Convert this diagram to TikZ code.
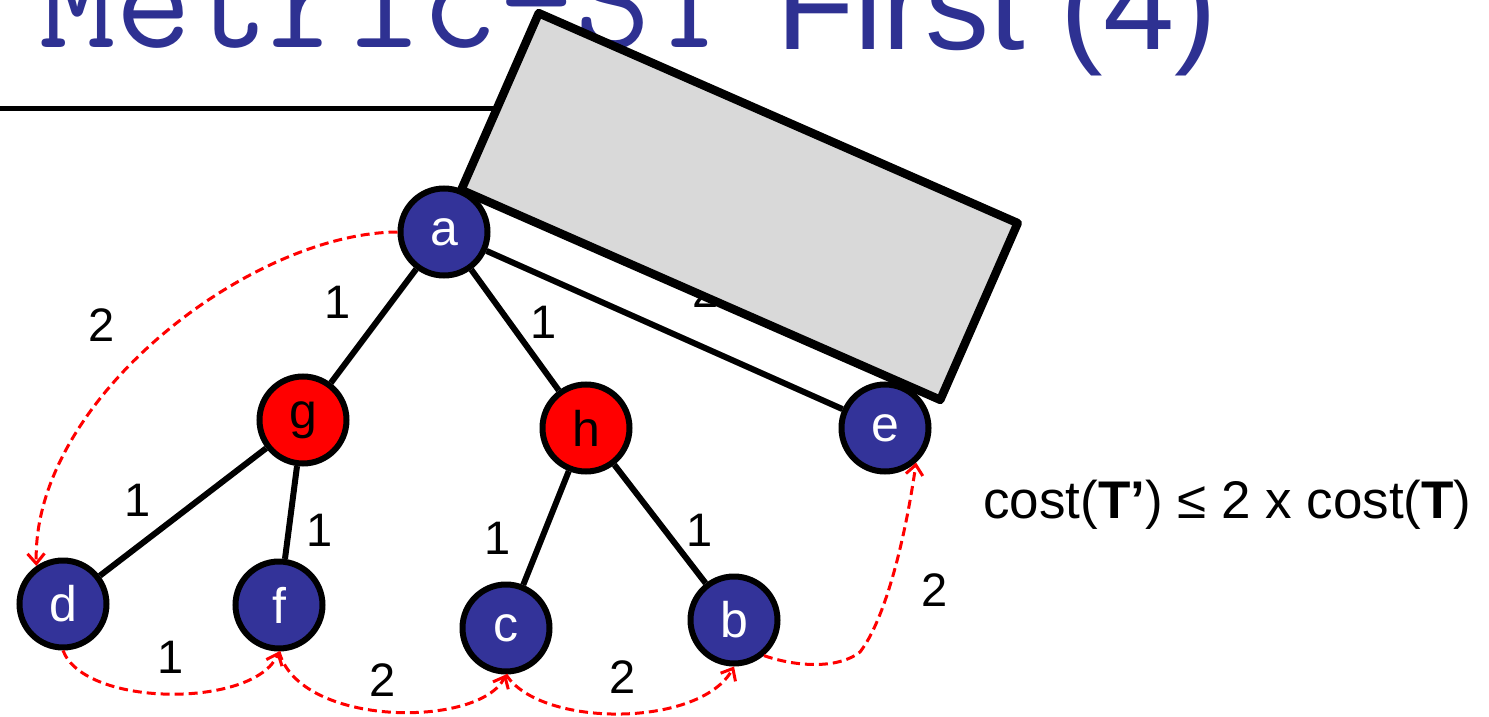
\documentclass[tikz,border=0pt]{standalone}
\usepackage{fontspec}
\setmainfont{Liberation Sans}
\usetikzlibrary{arrows.meta}
\definecolor{ttlblue}{RGB}{46,49,146}
\definecolor{nodeblue}{RGB}{51,51,153}
\definecolor{boxgray}{RGB}{217,217,217}
\begin{document}
\begin{tikzpicture}[x=1pt,y=-1pt,
  vtx/.style={circle,draw=black,line width=6pt,minimum size=87pt,inner sep=0pt,font=\fontsize{50}{50}\selectfont},
  bluev/.style={vtx,fill=nodeblue,text=white},
  redv/.style={vtx,fill=red,text=black},
  tree/.style={line width=6pt,black},
  tour/.style={red,line width=3pt,dash pattern=on 9pt off 5pt,-{Straight Barb[length=10pt,width=17pt,line width=3pt]}},
  wlab/.style={font=\fontsize{47}{47}\selectfont,inner sep=0pt},
  greybox/.style={draw=black,fill=boxgray,line width=8.5pt,line join=round,inner sep=0pt,minimum width=523pt,minimum height=193pt,rotate=-23.67},
]
\clip (0,0) rectangle (1489,717);
\fill[white] (0,0) rectangle (1489,717);

% title
\node[anchor=base west,inner sep=0pt,text=ttlblue,font=\ttfamily\fontsize{148.6}{150}\selectfont] (t1) at (39,48) {Metric-ST};
\node[anchor=base west,inner sep=0pt,text=ttlblue,font=\fontsize{128}{130}\selectfont] (t2) at (776,50) {First (4)};
\coordinate (rl) at (0,108);
\coordinate (rr) at (520,108);
\draw[line width=5pt] (rl) -- (rr);

% vertices
\node[bluev] (a) at (444,232) {a};
\node[redv]  (g) at (303,420) {g};
\node[redv]  (h) at (586,428) {h};
\node[bluev] (e) at (885,428) {e};
\node[bluev] (d) at (63,604) {d};
\node[bluev] (f) at (279,605) {f};
\node[bluev] (c) at (506,628) {c};
\node[bluev] (b) at (734,620) {b};

% tree edges
\draw[tree] (a) -- (g);
\draw[tree] (a) -- (h);
\draw[tree] (a) -- (e);
\draw[tree] (g) -- (d);
\draw[tree] (g) -- (f);
\draw[tree] (h) -- (c);
\draw[tree] (h) -- (b);

% tree edge weights
\node[wlab] (w1) at (338,302) {1};
\node[wlab] (w2) at (544,322) {1};
\node[wlab] (w3) at (706,291) {2};
\node[wlab] (w4) at (138,500) {1};
\node[wlab] (w5) at (320,530) {1};
\node[wlab] (w6) at (498,538) {1};
\node[wlab] (w7) at (700,530) {1};

% tour
\draw[tour] (a.west) .. controls (250,233) and (32,400) .. (d.125);
\draw[tour] (d.south) .. controls (85,708) and (255,708) .. (f.south);
\draw[tour] (f.south) .. controls (300,728) and (480,728) .. (c.south);
\draw[tour] (c.south) .. controls (540,728) and (700,728) .. (b.south);
\draw[tour] (b.-50) .. controls (800,668) and (840,668) .. (860,652) .. controls (885,620) and (905,540) .. (e.-48);

% tour weights
\node[wlab] (r1) at (102,325) {2};
\node[wlab] (r2) at (171,657) {1};
\node[wlab] (r3) at (383,680) {2};
\node[wlab] (r4) at (623,677) {2};
\node[wlab] (r5) at (935,590) {2};

% formula
\node[anchor=base west,inner sep=0pt,font=\fontsize{53}{53}\selectfont] (cost) at (983,518) {cost(\textbf{T’}) ≤ 2 x cost(\textbf{T})};

% covering box
\node[greybox] (box) at (739.5,206.5) {};
\end{tikzpicture}
\end{document}
